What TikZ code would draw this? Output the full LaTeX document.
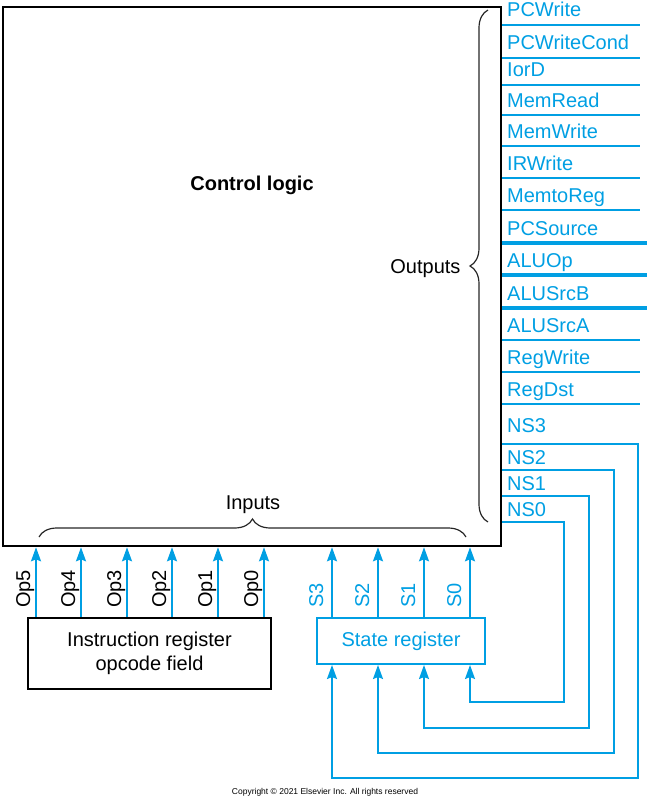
\documentclass[tikz,border=0pt]{standalone}
\usepackage{fontspec}
\setmainfont{Liberation Sans}
\usepackage{tikz}
\usetikzlibrary{positioning}
\usetikzlibrary{arrows.meta}
\usetikzlibrary{decorations.pathreplacing}
\definecolor{sigblue}{RGB}{0,159,227}
\tikzstyle{arrow} = [sigblue,line width=1.8pt,-{Stealth[length=14pt,width=10pt,inset=2pt]}]
\tikzstyle{sig} = [sigblue,line width=1.8pt]
\tikzstyle{bus} = [sigblue,line width=3.8pt]
\tikzstyle{lbl} = [sigblue,anchor=base west,inner sep=0pt]
\tikzstyle{vlbl} = [rotate=90,anchor=base west,inner sep=0pt]
\tikzstyle{box} = [draw,line width=2.6pt,inner sep=0pt]

\begin{document}
\begin{tikzpicture}[x=1pt,y=-1pt,font=\fontsize{20}{24}\selectfont,decoration={brace,amplitude=18pt}]
\useasboundingbox (0,0) rectangle (647,800);

%Boxes
\node [box, minimum width=498pt, minimum height=539pt] (ctrl) at (252,276.5) {};
\node [font=\fontsize{20}{24}\selectfont\bfseries] (title) at (252,185) {Control logic};
\node [box, minimum width=243pt, minimum height=71pt, align=center] (ireg) at (149.5,653.5) {Instruction register\\opcode field};
\node [box, draw=sigblue, text=sigblue, line width=2pt, minimum width=168pt, minimum height=46pt] (state) at (401,641) {State register};

%Output coordinates
\coordinate (pcwE) at (640,25);
\coordinate (pcwcE) at (640,58);
\coordinate (iordE) at (640,85);
\coordinate (mrdE) at (640,115);
\coordinate (mwrE) at (640,146);
\coordinate (irwE) at (640,178);
\coordinate (m2rE) at (640,210);
\coordinate (pcsE) at (647,243);
\coordinate (aluopE) at (647,275);
\coordinate (srcbE) at (647,308);
\coordinate (srcaE) at (640,340);
\coordinate (rgwE) at (640,372);
\coordinate (rgdE) at (640,404);
\coordinate (ns3R) at (638,444);
\coordinate (ns2R) at (614,470);
\coordinate (ns1R) at (589,496);
\coordinate (ns0R) at (564,522);
\coordinate (ns3B) at (638,778);
\coordinate (ns2B) at (614,753);
\coordinate (ns1B) at (589,728);
\coordinate (ns0B) at (564,702);

%Output labels
\node [lbl] (pcw) at (507,17) {PCWrite};
\node [lbl] (pcwc) at (507,50) {PCWriteCond};
\node [lbl] (iord) at (507,77) {IorD};
\node [lbl] (mrd) at (507,107) {MemRead};
\node [lbl] (mwr) at (507,138) {MemWrite};
\node [lbl] (irw) at (507,170) {IRWrite};
\node [lbl] (m2r) at (507,202) {MemtoReg};
\node [lbl] (pcs) at (507,235) {PCSource};
\node [lbl] (aluop) at (507,267) {ALUOp};
\node [lbl] (srcb) at (507,300) {ALUSrcB};
\node [lbl] (srca) at (507,332) {ALUSrcA};
\node [lbl] (rgw) at (507,364) {RegWrite};
\node [lbl] (rgd) at (507,396) {RegDst};
\node [lbl] (ns3) at (507,432) {NS3};
\node [lbl] (ns2) at (507,464) {NS2};
\node [lbl] (ns1) at (507,490) {NS1};
\node [lbl] (ns0) at (507,516) {NS0};

%Output lines
\draw[sig] (ctrl.east |- pcwE) -- (pcwE);
\draw[sig] (ctrl.east |- pcwcE) -- (pcwcE);
\draw[sig] (ctrl.east |- iordE) -- (iordE);
\draw[sig] (ctrl.east |- mrdE) -- (mrdE);
\draw[sig] (ctrl.east |- mwrE) -- (mwrE);
\draw[sig] (ctrl.east |- irwE) -- (irwE);
\draw[sig] (ctrl.east |- m2rE) -- (m2rE);
\draw[bus] (ctrl.east |- pcsE) -- (pcsE);
\draw[bus] (ctrl.east |- aluopE) -- (aluopE);
\draw[bus] (ctrl.east |- srcbE) -- (srcbE);
\draw[sig] (ctrl.east |- srcaE) -- (srcaE);
\draw[sig] (ctrl.east |- rgwE) -- (rgwE);
\draw[sig] (ctrl.east |- rgdE) -- (rgdE);

%State register ports
\coordinate (s3) at ([xshift=-69pt]state.north);
\coordinate (s2) at ([xshift=-23pt]state.north);
\coordinate (s1) at ([xshift=23pt]state.north);
\coordinate (s0) at ([xshift=69pt]state.north);
\coordinate (in3) at ([xshift=-69pt]state.south);
\coordinate (in2) at ([xshift=-23pt]state.south);
\coordinate (in1) at ([xshift=23pt]state.south);
\coordinate (in0) at ([xshift=69pt]state.south);

%Next state loops
\draw[arrow] (ctrl.east |- ns3R) -- (ns3R) -- (ns3B) -| (in3);
\draw[arrow] (ctrl.east |- ns2R) -- (ns2R) -- (ns2B) -| (in2);
\draw[arrow] (ctrl.east |- ns1R) -- (ns1R) -- (ns1B) -| (in1);
\draw[arrow] (ctrl.east |- ns0R) -- (ns0R) -- (ns0B) -| (in0);

%State inputs
\draw[arrow] (s3) -- (s3 |- ctrl.south);
\draw[arrow] (s2) -- (s2 |- ctrl.south);
\draw[arrow] (s1) -- (s1 |- ctrl.south);
\draw[arrow] (s0) -- (s0 |- ctrl.south);
\node [vlbl, text=sigblue] (s3lbl) at (323,608) {S3};
\node [vlbl, text=sigblue] (s2lbl) at (369,608) {S2};
\node [vlbl, text=sigblue] (s1lbl) at (415,608) {S1};
\node [vlbl, text=sigblue] (s0lbl) at (461,608) {S0};

%Opcode inputs
\coordinate (op5) at (36,0);
\coordinate (op4) at (81,0);
\coordinate (op3) at (127,0);
\coordinate (op2) at (172,0);
\coordinate (op1) at (218,0);
\coordinate (op0) at (264,0);
\draw[arrow] (ireg.north -| op5) -- (ctrl.south -| op5);
\draw[arrow] (ireg.north -| op4) -- (ctrl.south -| op4);
\draw[arrow] (ireg.north -| op3) -- (ctrl.south -| op3);
\draw[arrow] (ireg.north -| op2) -- (ctrl.south -| op2);
\draw[arrow] (ireg.north -| op1) -- (ctrl.south -| op1);
\draw[arrow] (ireg.north -| op0) -- (ctrl.south -| op0);
\node [vlbl] (op5lbl) at (30,608) {Op5};
\node [vlbl] (op4lbl) at (75,608) {Op4};
\node [vlbl] (op3lbl) at (121,608) {Op3};
\node [vlbl] (op2lbl) at (166,608) {Op2};
\node [vlbl] (op1lbl) at (212,608) {Op1};
\node [vlbl] (op0lbl) at (258,608) {Op0};

%Braces
\coordinate (inL) at (39,537);
\coordinate (inR) at (466,537);
\coordinate (outT) at (488,10);
\coordinate (outB) at (488,522);
\draw[decorate, line width=1.2pt, black!85] (inL) -- (inR);
\draw[decorate, line width=1.2pt, black!85] (outB) -- (outT);
\node [anchor=base] (inputs) at (253,509) {Inputs};
\node [anchor=base east] (outputs) at (464,273) {Outputs};

%Copyright
\node [anchor=base, font=\fontsize{8.5}{10}\selectfont] (copy) at (325,794) {Copyright \textcopyright{} 2021 Elsevier Inc. All rights reserved};
\end{tikzpicture}
\end{document}
